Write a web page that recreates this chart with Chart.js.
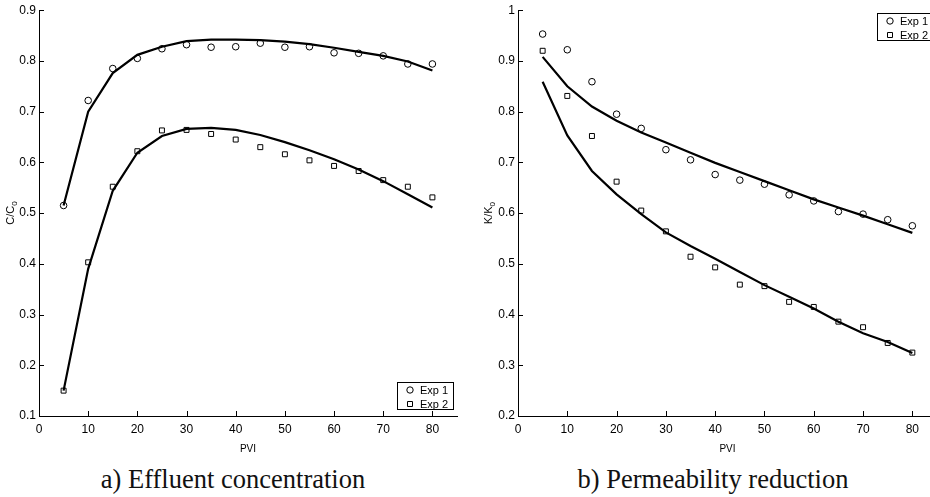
<!DOCTYPE html>
<html>
<head>
<meta charset="utf-8">
<script src="https://cdn.jsdelivr.net/npm/chart.js@4.4.0/dist/chart.umd.min.js"></script>
<style>
  html, body { margin: 0; padding: 0; background: #fff; overflow: hidden; width: 930px; height: 497px; }
  .panel { position: absolute; top: 0; height: 455px; }
  .caption { position: absolute; top: 464px; font-family: "Liberation Serif", serif; font-size: 26.5px; line-height: 30px; color: #111; white-space: nowrap; transform: translateX(-50%); }
</style>
</head>
<body>
<div class="panel" style="left:0;width:465px"><canvas id="effluent"></canvas></div>
<div class="panel" style="left:465px;width:480px"><canvas id="perm"></canvas></div>
<div class="caption" style="left:233px">a) Effluent concentration</div>
<div class="caption" style="left:713px">b) Permeability reduction</div>
<script>
const pvi = [5, 10, 15, 20, 25, 30, 35, 40, 45, 50, 55, 60, 65, 70, 75, 80];
const xTicks = [0, 10, 20, 30, 40, 50, 60, 70, 80];

// a) effluent concentration C/C0
const effExp1 = [0.515, 0.722, 0.785, 0.805, 0.824, 0.832, 0.827, 0.828, 0.835, 0.827, 0.828, 0.816, 0.815, 0.810, 0.794, 0.794];
const effExp2 = [0.150, 0.403, 0.552, 0.622, 0.663, 0.664, 0.656, 0.645, 0.630, 0.616, 0.604, 0.593, 0.583, 0.565, 0.552, 0.531];
const effModel1 = [0.515, 0.700, 0.776, 0.812, 0.828, 0.839, 0.842, 0.842, 0.841, 0.838, 0.833, 0.826, 0.818, 0.810, 0.799, 0.781];
const effModel2 = [0.150, 0.390, 0.544, 0.619, 0.652, 0.666, 0.668, 0.664, 0.654, 0.640, 0.624, 0.606, 0.586, 0.563, 0.537, 0.511];
const effTicks = [0.1, 0.2, 0.3, 0.4, 0.5, 0.6, 0.7, 0.8, 0.9];

// b) permeability reduction K/K0
const permExp1 = [0.953, 0.922, 0.859, 0.795, 0.767, 0.725, 0.705, 0.676, 0.665, 0.657, 0.636, 0.624, 0.603, 0.598, 0.587, 0.575];
const permExp2 = [0.920, 0.831, 0.752, 0.662, 0.605, 0.564, 0.514, 0.493, 0.459, 0.456, 0.425, 0.415, 0.386, 0.375, 0.344, 0.325];
const permModel1 = [0.908, 0.850, 0.810, 0.782, 0.759, 0.739, 0.719, 0.699, 0.681, 0.663, 0.645, 0.627, 0.611, 0.595, 0.578, 0.561];
const permModel2 = [0.859, 0.753, 0.683, 0.637, 0.598, 0.562, 0.535, 0.510, 0.484, 0.458, 0.435, 0.412, 0.386, 0.363, 0.346, 0.324];
const permTicks = [0.2, 0.3, 0.4, 0.5, 0.6, 0.7, 0.8, 0.9, 1];

const legendLabels = ['Exp 1', 'Exp 2'];

const sans = '"Liberation Sans", Arial, sans-serif';
const toXY = (ys) => pvi.map((x, i) => ({ x, y: ys[i] }));

// ticks pointing inward, like matlab
const innerTicks = {
  id: 'innerTicks',
  afterDraw(chart) {
    const { ctx, chartArea, scales } = chart;
    ctx.save();
    ctx.strokeStyle = '#000';
    ctx.lineWidth = 1;
    ctx.beginPath();
    scales.x.ticks.forEach(t => {
      const px = Math.round(scales.x.getPixelForValue(t.value)) + 0.5;
      ctx.moveTo(px, chartArea.bottom);
      ctx.lineTo(px, chartArea.bottom - 5);
    });
    scales.y.ticks.forEach(t => {
      const py = Math.round(scales.y.getPixelForValue(t.value)) + 0.5;
      ctx.moveTo(chartArea.left, py);
      ctx.lineTo(chartArea.left + 5, py);
    });
    ctx.stroke();
    ctx.restore();
  }
};

// y title with a subscript 0, and the boxed legend
const decorations = {
  id: 'decorations',
  afterDraw(chart, args, opts) {
    const { ctx, chartArea } = chart;
    ctx.save();
    // axis title
    ctx.fillStyle = '#000';
    ctx.font = '11px ' + sans;
    const main = opts.letter + '/' + opts.letter;
    const w1 = ctx.measureText(main).width;
    ctx.font = '8px ' + sans;
    const w2 = ctx.measureText('0').width;
    ctx.translate(opts.titleX, (chartArea.top + chartArea.bottom) / 2);
    ctx.rotate(-Math.PI / 2);
    ctx.textBaseline = 'alphabetic';
    ctx.font = '11px ' + sans;
    ctx.fillText(main, -(w1 + w2) / 2, 0);
    ctx.font = '8px ' + sans;
    ctx.fillText('0', -(w1 + w2) / 2 + w1, 3);
    ctx.restore();

    // legend
    const b = opts.box;
    ctx.save();
    ctx.fillStyle = '#fff';
    ctx.fillRect(b.x, b.y, b.w, b.h);
    ctx.strokeStyle = '#000';
    ctx.lineWidth = 1;
    ctx.strokeRect(b.x + 0.5, b.y + 0.5, b.w, b.h);
    ctx.font = '11px ' + sans;
    ctx.fillStyle = '#000';
    ctx.textBaseline = 'middle';
    legendLabels.forEach((label, i) => {
      const cy = b.y + 8 + i * 14;
      const mx = b.x + 13;
      ctx.beginPath();
      if (i === 0) {
        ctx.arc(mx, cy, 3.2, 0, Math.PI * 2);
      } else {
        ctx.rect(mx - 2.5, cy - 2.5, 5, 5);
      }
      ctx.stroke();
      ctx.fillText(label, b.x + 23, cy + 0.5);
    });
    ctx.restore();
  }
};

function makeChart(id, exp1, exp2, model1, model2, yTicks, yMin, yMax, yWidth, padRight, letter, titleX, box) {
  return new Chart(document.getElementById(id), {
    type: 'scatter',
    data: {
      datasets: [
        { label: 'Exp 1', data: toXY(exp1), pointStyle: 'circle', pointRadius: 3.3, borderColor: '#000', backgroundColor: 'rgba(0,0,0,0)', borderWidth: 1, showLine: false },
        { label: 'Exp 2', data: toXY(exp2), pointStyle: 'rect', pointRadius: 3.5, borderColor: '#000', backgroundColor: 'rgba(0,0,0,0)', borderWidth: 1, showLine: false },
        { label: 'Model 1', data: toXY(model1), pointRadius: 0, borderColor: '#000', borderWidth: 2.2, showLine: true, tension: 0 },
        { label: 'Model 2', data: toXY(model2), pointRadius: 0, borderColor: '#000', borderWidth: 2.2, showLine: true, tension: 0 }
      ]
    },
    options: {
      responsive: false,
      animation: false,
      devicePixelRatio: 1,
      layout: { padding: { top: 8, right: padRight, left: 0, bottom: 0 } },
      plugins: {
        legend: { display: false },
        tooltip: { enabled: false },
        decorations: { letter, titleX, box }
      },
      scales: {
        x: {
          type: 'linear',
          min: 0,
          max: 85,
          afterBuildTicks: s => { s.ticks = xTicks.map(v => ({ value: v })); },
          afterFit: s => { s.height = 39; },
          grid: { drawOnChartArea: false, drawTicks: false },
          border: { display: true, color: '#000', width: 1 },
          ticks: { color: '#000', font: { family: sans, size: 12 }, padding: 6, maxRotation: 0 },
          title: { display: true, text: 'PVI', color: '#000', font: { family: sans, size: 10 }, padding: 0 }
        },
        y: {
          type: 'linear',
          min: yMin,
          max: yMax,
          afterBuildTicks: s => { s.ticks = yTicks.map(v => ({ value: v })); },
          afterFit: s => { s.width = yWidth; },
          grid: { drawOnChartArea: false, drawTicks: false },
          border: { display: true, color: '#000', width: 1 },
          ticks: { color: '#000', font: { family: sans, size: 12 }, padding: 3, callback: v => String(+v.toFixed(1)) }
        }
      }
    },
    plugins: [innerTicks, decorations]
  });
}

const c1 = document.getElementById('effluent');
c1.width = 465; c1.height = 455;
const c2 = document.getElementById('perm');
c2.width = 480; c2.height = 455;

makeChart('effluent', effExp1, effExp2, effModel1, effModel2, effTicks, 0.1, 0.9, 39, 8, 'C', 14, { x: 397, y: 382, w: 56, h: 27 });
makeChart('perm', permExp1, permExp2, permModel1, permModel2, permTicks, 0.2, 1, 53, 8, 'K', 27, { x: 412, y: 13, w: 60, h: 27 });
</script>
</body>
</html>
